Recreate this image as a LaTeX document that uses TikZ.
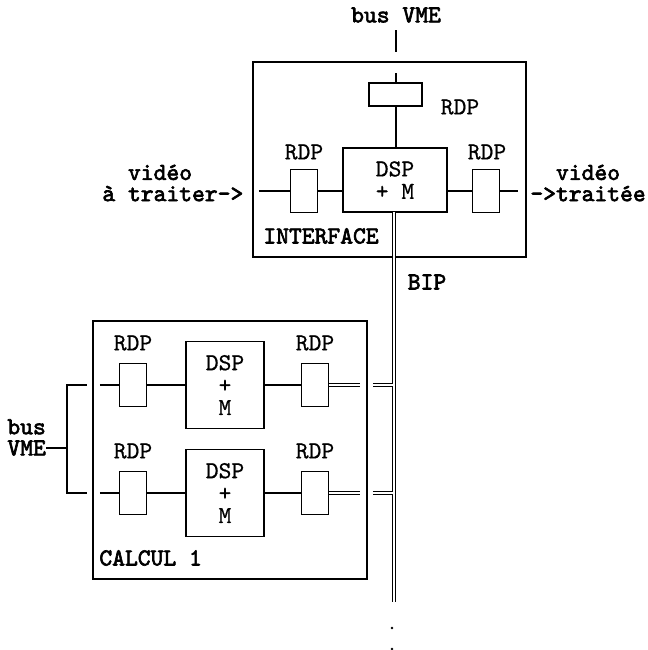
\documentclass[tikz,border=0pt]{standalone}
\usepackage{fontspec}
\newfontfamily\mybtt{lmmono10-regular.otf}[FakeBold=2.6]
\newfontfamily\myrtt{lmmono10-regular.otf}[FakeBold=0.6]
\newcommand\mylbl{\myrtt\fontsize{12.2}{11.2}\selectfont}
\newcommand\myblbl{\mybtt\fontsize{12.2}{10.6}\selectfont}
\begin{document}
\begin{tikzpicture}[x=0.5pt,y=-0.5pt,
  lw/.style={line width=0.65pt},
  blk/.style={draw, line width=0.65pt, inner sep=0pt},
  rdp/.style={blk, minimum width=13.25pt, minimum height=21.5pt},
  dspbox/.style={blk, align=center, font=\mylbl},
  lab/.style={font=\mylbl, inner sep=0pt},
  blab/.style={font=\myblbl, inner sep=0pt},
  dbl/.style={draw, line width=0.5pt, double, double distance=1.25pt},
  dotn/.style={circle, fill, inner sep=0pt, minimum size=1.3pt}
]
\fill[white] (0,0) rectangle (648,650);
\useasboundingbox (0,0) rectangle (648,650);

% ---------------- INTERFACE ----------------
\node[blk, minimum width=136.5pt, minimum height=97.5pt] (ifc) at (389.5,159.5) {};
\node[blk, minimum width=26.5pt, minimum height=11.5pt] (itop) at (395.5,94.5) {};
\node[dspbox, minimum width=52pt, minimum height=32pt] (idsp) at (395,180) {DSP\\+ M};
\node[rdp] (il) at (304,191) {};
\node[rdp] (ir) at (486,191) {};
\node[lab] (ltop) at (460,107) {RDP};
\node[lab] (lil) at (304,152) {RDP};
\node[lab] (lir) at (487,152) {RDP};
\node[blab, anchor=west] (lifc) at (263,236) {INTERFACE};
\node[blab] (lbus) at (396,15) {bus VME};

\coordinate (busa) at (396,30);
\coordinate (busb) at (396,52);
\coordinate (itin) at (396,73);
\draw[lw] (busa) -- (busb);
\draw[lw] (itin) -- (itin |- itop.north);
\draw[lw] (itop.south -| itin) -- (idsp.north -| itin);

\coordinate (iin) at (259,191);
\coordinate (iout) at (518,191);
\draw[lw] (iin) -- (il.west);
\draw[lw] (il.east) -- (il.east -| idsp.west);
\draw[lw] (ir.west -| idsp.east) -- (ir.west);
\draw[lw] (ir.east) -- (iout);

\node[blab, anchor=west, align=left] (vin) at (102,183) {\hphantom{à }vidéo\\à traiter->};
\node[blab, anchor=west, align=left] (vout) at (530,183) {\hphantom{->}vidéo\\->traitée};

% ---------------- BIP ----------------
\coordinate (bipt) at (394,212);
\coordinate (bipb) at (394,602);
\draw[dbl] (bipt) -- (bipb);
\node[blab] (lbip) at (427,282) {BIP};
\node[dotn] (dot1) at (392,628) {};
\node[dotn] (dot2) at (392,649) {};

% ---------------- CALCUL 1 ----------------
\node[blk, minimum width=137pt, minimum height=129pt] (calc) at (230,450) {};
\node[blab, anchor=west] (lcalc) at (99,558) {CALCUL 1};

\foreach \r/\y in {a/385, b/493}{
  \node[rdp] (l\r) at (133,\y) {};
  \node[dspbox, minimum width=39pt, minimum height=43.5pt] (d\r) at (225,\y) {DSP\\+\\M};
  \node[rdp] (r\r) at (315,\y) {};
  \node[lab] (ll\r) at (133,\y-42) {RDP};
  \node[lab] (lr\r) at (315,\y-42) {RDP};
  \coordinate (cin\r) at (100,\y);
  \coordinate (bk\r) at (87,\y);
  \coordinate (cout\r) at (360,\y);
  \coordinate (cext\r) at (373,\y);
  \draw[lw] (cin\r) -- (l\r.west);
  \draw[lw] (l\r.east) -- (d\r.west);
  \draw[lw] (d\r.east) -- (r\r.west);
  \draw[dbl] (r\r.east) -- (cout\r);
  \draw[dbl] (cext\r) -- ([xshift=-0.625pt]bipb |- cext\r);
}

% bus VME bracket
\coordinate (bkx) at (67,448);
\draw[lw] (bka) -- (bka -| bkx) -- (bkb -| bkx) -- (bkb);
\node[blab, align=left, anchor=south west] (lbusv) at (7,456) {bus\\VME};
\draw[lw] (lbusv.east |- bkx) -- (bkx);
\end{tikzpicture}
\end{document}
